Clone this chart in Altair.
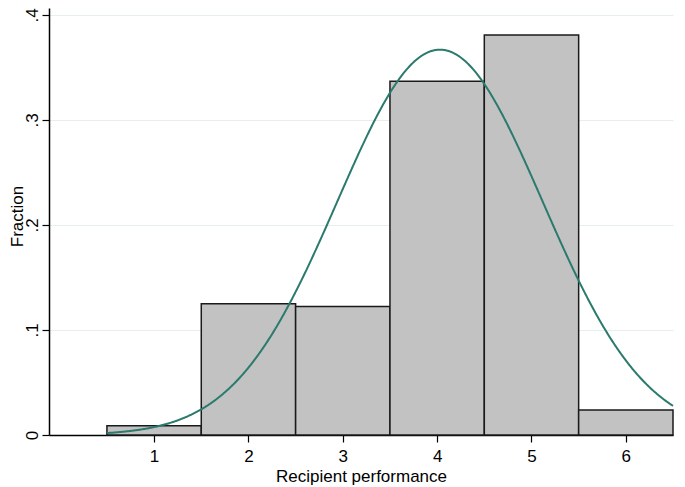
import altair as alt
import pandas as pd

# Histogram bins (bin width 1, centred on integer scores)
bin_centers = [1, 2, 3, 4, 5, 6]
fractions = [0.0088, 0.1249, 0.1224, 0.3368, 0.3810, 0.0238]

# Fitted normal curve parameters
curve_mean = 4.03
curve_sd = 1.087
curve_start = 0.5
curve_end = 6.5

x_ticks = [1, 2, 3, 4, 5, 6]
y_ticks = [0, 0.1, 0.2, 0.3, 0.4]
y_tick_labels = ["0", ".1", ".2", ".3", ".4"]

bars_df = pd.DataFrame({
    "start": [c - 0.5 for c in bin_centers],
    "end": [c + 0.5 for c in bin_centers],
    "fraction": fractions,
})

x_scale = alt.Scale(domain=[-0.114, 6.5], nice=False, zero=False)
y_scale = alt.Scale(domain=[0, 0.40667], nice=False)

label_expr = "{" + ", ".join(f"'{v}': '{l}'" for v, l in zip(y_ticks, y_tick_labels)) + "}[toString(datum.value)]"

font = "Liberation Sans"

bars = alt.Chart(bars_df).mark_rect(
    fill="#c2c2c2", stroke="#1a1a1a", strokeWidth=1.5
).encode(
    x=alt.X("start:Q", scale=x_scale, axis=alt.Axis(
        values=x_ticks, title="Recipient performance", grid=False,
        tickSize=7, labelBaseline="alphabetic", labelPadding=19,
        titleBaseline="alphabetic", titleY=46, format="d")),
    x2="end:Q",
    y=alt.Y("fraction:Q", scale=y_scale, axis=alt.Axis(
        values=y_ticks, labelExpr=label_expr, title="Fraction",
        grid=True, gridColor="#e6eef0", gridWidth=1,
        tickSize=7, labelAngle=270, labelAlign="center", labelBaseline="alphabetic",
        labelPadding=5, titleAngle=270, titleX=-40, titleY=208,
        titleAlign="center", titleBaseline="top")),
    y2=alt.datum(0),
)

curve = alt.Chart(alt.sequence(curve_start, curve_end + 0.001, 0.01, as_="x")).transform_calculate(
    y=f"exp(-0.5*pow((datum.x-{curve_mean})/{curve_sd},2))/({curve_sd}*sqrt(2*PI))"
).mark_line(color="#2b7a6e", strokeWidth=2).encode(
    x=alt.X("x:Q", scale=x_scale),
    y=alt.Y("y:Q", scale=y_scale),
)

chart = alt.layer(bars, curve).properties(
    width=624, height=427,
    background="white",
    autosize=alt.AutoSizeParams(type="none"),
    padding={"left": 41, "top": 0, "right": 4, "bottom": 52},
).configure_view(stroke=None).configure_axis(
    domainColor="#000000", domainWidth=1.5, tickColor="#000000", tickWidth=1.2,
    labelFont=font, titleFont=font, labelFontSize=17, titleFontSize=17,
    labelColor="#000000", titleColor="#000000", titleFontWeight="normal",
)

chart.save("out.html", embed_options={"renderer": "svg", "actions": False})
